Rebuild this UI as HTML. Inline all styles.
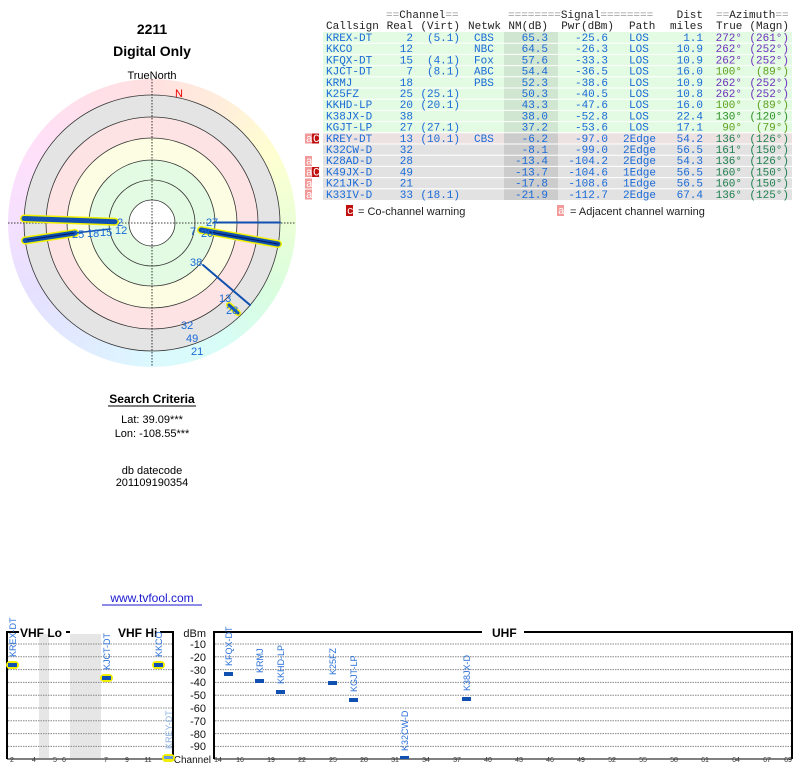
<!DOCTYPE html>
<html><head><meta charset="utf-8"><style>
html,body{margin:0;padding:0;background:#fff;width:800px;height:768px;overflow:hidden;position:relative}
#wheel{position:absolute;left:8px;top:79px;width:288px;height:288px;border-radius:50%;
background:conic-gradient(hsl(0,100%,94%),hsl(30,100%,93%),hsl(60,100%,91%),hsl(90,100%,92%),hsl(130,90%,92%),hsl(170,90%,92%),hsl(190,100%,93%),hsl(220,100%,94%),hsl(250,100%,94%),hsl(280,100%,94%),hsl(310,100%,94%),hsl(340,100%,94%),hsl(360,100%,94%))}
svg{position:absolute;left:0;top:0}
.m{font-family:"Liberation Mono","DejaVu Sans Mono",monospace;font-size:11px}
.s{font-family:"Liberation Sans","DejaVu Sans",sans-serif}
</style></head><body>
<div id="wheel"></div>
<svg width="800" height="768" viewBox="0 0 800 768">
<g class="s" text-anchor="middle" fill="#000">
<text x="152" y="34" font-size="14" font-weight="bold">2211</text>
<text x="152" y="56" font-size="14" font-weight="bold">Digital Only</text>
<text x="152" y="79" font-size="11">TrueNorth</text>
<text x="152" y="403" font-size="12" font-weight="bold">Search Criteria</text>
<text x="152" y="423" font-size="11">Lat: 39.09***</text>
<text x="152" y="437" font-size="11">Lon: -108.55***</text>
<text x="152" y="474" font-size="11">db datecode</text>
<text x="152" y="486" font-size="11">201109190354</text>
<text x="152" y="602" font-size="12" fill="#1a1ad0">www.tvfool.com</text>
</g>
<line x1="108" y1="406" x2="196" y2="406" stroke="#000" stroke-width="1"/>
<line x1="102" y1="605" x2="202" y2="605" stroke="#1a1ad0" stroke-width="1"/>
<circle cx="152" cy="223" r="128" fill="#e4e4e4"/>
<circle cx="152" cy="223" r="106" fill="#fde3e3"/>
<circle cx="152" cy="223" r="85" fill="#fcfde2"/>
<circle cx="152" cy="223" r="63" fill="#e2fbe2"/>
<circle cx="152" cy="223" r="23" fill="#fff"/>
<g fill="none" stroke="#333" stroke-width="0.8">
<circle cx="152" cy="223" r="128"/><circle cx="152" cy="223" r="106"/><circle cx="152" cy="223" r="85"/><circle cx="152" cy="223" r="63"/><circle cx="152" cy="223" r="43"/><circle cx="152" cy="223" r="23"/>
</g>
<g stroke="#000" stroke-width="0.8" stroke-dasharray="1.5,1.5">
<line x1="152" y1="79" x2="152" y2="367"/><line x1="8" y1="223" x2="296" y2="223"/>
</g>
<text x="179" y="97" class="s" font-size="11" fill="#e00" text-anchor="middle">N</text>
<g stroke-linecap="round">
<line x1="24" y1="218.5" x2="115" y2="221.7" stroke="#f0f000" stroke-width="8"/>
<line x1="24" y1="218.5" x2="115" y2="221.7" stroke="#1050b0" stroke-width="5"/>
<line x1="25" y1="240.5" x2="75" y2="233" stroke="#f0f000" stroke-width="8"/>
<line x1="25" y1="240.5" x2="75" y2="233" stroke="#1050b0" stroke-width="5"/>
<line x1="27" y1="240" x2="75" y2="233" stroke="#001a60" stroke-width="1"/>
<line x1="75" y1="233" x2="110" y2="229" stroke="#1050b0" stroke-width="1.5"/>
<line x1="201" y1="230" x2="278" y2="244" stroke="#f0f000" stroke-width="8"/>
<line x1="201" y1="230" x2="278" y2="244" stroke="#1050b0" stroke-width="5"/>
<line x1="210" y1="232" x2="278" y2="244" stroke="#001a60" stroke-width="1"/>
<line x1="214" y1="222.5" x2="280" y2="222.5" stroke="#1050b0" stroke-width="2"/>
<line x1="203" y1="265" x2="250" y2="305" stroke="#1050b0" stroke-width="2"/>
<line x1="229" y1="305" x2="238" y2="313" stroke="#f0f000" stroke-width="6"/>
<line x1="229" y1="305" x2="238" y2="313" stroke="#1050b0" stroke-width="3"/>
</g>
<g class="s" font-size="11" fill="#1a6ad8">
<text x="117" y="226">2</text><text x="115" y="234">12</text>
<text x="72" y="238">25</text><text x="87" y="237">18</text><text x="100" y="236">15</text>
<text x="206" y="226">27</text><text x="190" y="235">7</text><text x="201" y="237">20</text>
<text x="190" y="266">38</text>
<text x="219" y="302">13</text><text x="226" y="314">28</text>
<text x="181" y="329">32</text><text x="186" y="342">49</text><text x="191" y="355">21</text>
</g>
<rect x="323" y="32" width="469" height="100.8" fill="#e2fbe2"/>
<rect x="323" y="132.8" width="469" height="11.2" fill="#ede2e2"/>
<rect x="323" y="144" width="469" height="56" fill="#e2e2e2"/>
<rect x="504" y="32" width="54" height="100.8" fill="#d0e6d0"/>
<rect x="504" y="132.8" width="54" height="67.2" fill="#cccccc"/>
<g stroke="#fff" stroke-width="1">
<line x1="323" x2="792" y1="43.2" y2="43.2"/><line x1="323" x2="792" y1="54.4" y2="54.4"/><line x1="323" x2="792" y1="65.6" y2="65.6"/><line x1="323" x2="792" y1="76.8" y2="76.8"/><line x1="323" x2="792" y1="88" y2="88"/><line x1="323" x2="792" y1="99.2" y2="99.2"/><line x1="323" x2="792" y1="110.4" y2="110.4"/><line x1="323" x2="792" y1="121.6" y2="121.6"/><line x1="323" x2="792" y1="132.8" y2="132.8"/><line x1="323" x2="792" y1="144" y2="144"/><line x1="323" x2="792" y1="155.2" y2="155.2"/><line x1="323" x2="792" y1="166.4" y2="166.4"/><line x1="323" x2="792" y1="177.6" y2="177.6"/><line x1="323" x2="792" y1="188.8" y2="188.8"/>
</g>
<g class="m" fill="#222">
<text x="386" y="18" fill="#999">==<tspan fill="#222">Channel</tspan>==</text>
<text x="508" y="18" fill="#999">========<tspan fill="#222">Signal</tspan>========</text>
<text x="703" y="18" text-anchor="end">Dist</text>
<text x="716" y="18" fill="#999">==<tspan fill="#222">Azimuth</tspan>==</text>
<text x="326" y="29">Callsign</text>
<text x="413" y="29" text-anchor="end">Real</text>
<text x="460" y="29" text-anchor="end">(Virt)</text>
<text x="468" y="29">Netwk</text>
<text x="548" y="29" text-anchor="end">NM(dB)</text>
<text x="614" y="29" text-anchor="end">Pwr(dBm)</text>
<text x="629" y="29">Path</text>
<text x="703" y="29" text-anchor="end">miles</text>
<text x="716" y="29">True</text>
<text x="789" y="29" text-anchor="end">(Magn)</text>
</g>
<g class="m" fill="#1a6ad8">
<text x="326"><tspan x="326" y="41">KREX-DT</tspan><tspan x="326" y="52.2">KKCO</tspan><tspan x="326" y="63.4">KFQX-DT</tspan><tspan x="326" y="74.6">KJCT-DT</tspan><tspan x="326" y="85.8">KRMJ</tspan><tspan x="326" y="97">K25FZ</tspan><tspan x="326" y="108.2">KKHD-LP</tspan><tspan x="326" y="119.4">K38JX-D</tspan><tspan x="326" y="130.6">KGJT-LP</tspan><tspan x="326" y="141.8">KREY-DT</tspan><tspan x="326" y="153">K32CW-D</tspan><tspan x="326" y="164.2">K28AD-D</tspan><tspan x="326" y="175.4">K49JX-D</tspan><tspan x="326" y="186.6">K21JK-D</tspan><tspan x="326" y="197.8">K33IV-D</tspan></text>
<text text-anchor="end"><tspan x="413" y="41">2</tspan><tspan x="413" y="52.2">12</tspan><tspan x="413" y="63.4">15</tspan><tspan x="413" y="74.6">7</tspan><tspan x="413" y="85.8">18</tspan><tspan x="413" y="97">25</tspan><tspan x="413" y="108.2">20</tspan><tspan x="413" y="119.4">38</tspan><tspan x="413" y="130.6">27</tspan><tspan x="413" y="141.8">13</tspan><tspan x="413" y="153">32</tspan><tspan x="413" y="164.2">28</tspan><tspan x="413" y="175.4">49</tspan><tspan x="413" y="186.6">21</tspan><tspan x="413" y="197.8">33</tspan></text>
<text text-anchor="end"><tspan x="460" y="41">(5.1)</tspan><tspan x="460" y="63.4">(4.1)</tspan><tspan x="460" y="74.6">(8.1)</tspan><tspan x="460" y="97">(25.1)</tspan><tspan x="460" y="108.2">(20.1)</tspan><tspan x="460" y="130.6">(27.1)</tspan><tspan x="460" y="141.8">(10.1)</tspan><tspan x="460" y="197.8">(18.1)</tspan></text>
<text><tspan x="474" y="41">CBS</tspan><tspan x="474" y="52.2">NBC</tspan><tspan x="474" y="63.4">Fox</tspan><tspan x="474" y="74.6">ABC</tspan><tspan x="474" y="85.8">PBS</tspan><tspan x="474" y="141.8">CBS</tspan></text>
<text text-anchor="end"><tspan x="548" y="41">65.3</tspan><tspan x="548" y="52.2">64.5</tspan><tspan x="548" y="63.4">57.6</tspan><tspan x="548" y="74.6">54.4</tspan><tspan x="548" y="85.8">52.3</tspan><tspan x="548" y="97">50.3</tspan><tspan x="548" y="108.2">43.3</tspan><tspan x="548" y="119.4">38.0</tspan><tspan x="548" y="130.6">37.2</tspan><tspan x="548" y="141.8">-6.2</tspan><tspan x="548" y="153">-8.1</tspan><tspan x="548" y="164.2">-13.4</tspan><tspan x="548" y="175.4">-13.7</tspan><tspan x="548" y="186.6">-17.8</tspan><tspan x="548" y="197.8">-21.9</tspan></text>
<text text-anchor="end"><tspan x="608" y="41">-25.6</tspan><tspan x="608" y="52.2">-26.3</tspan><tspan x="608" y="63.4">-33.3</tspan><tspan x="608" y="74.6">-36.5</tspan><tspan x="608" y="85.8">-38.6</tspan><tspan x="608" y="97">-40.5</tspan><tspan x="608" y="108.2">-47.6</tspan><tspan x="608" y="119.4">-52.8</tspan><tspan x="608" y="130.6">-53.6</tspan><tspan x="608" y="141.8">-97.0</tspan><tspan x="608" y="153">-99.0</tspan><tspan x="608" y="164.2">-104.2</tspan><tspan x="608" y="175.4">-104.6</tspan><tspan x="608" y="186.6">-108.6</tspan><tspan x="608" y="197.8">-112.7</tspan></text>
<text><tspan x="629" y="41">LOS</tspan><tspan x="629" y="52.2">LOS</tspan><tspan x="629" y="63.4">LOS</tspan><tspan x="629" y="74.6">LOS</tspan><tspan x="629" y="85.8">LOS</tspan><tspan x="629" y="97">LOS</tspan><tspan x="629" y="108.2">LOS</tspan><tspan x="629" y="119.4">LOS</tspan><tspan x="629" y="130.6">LOS</tspan><tspan x="623" y="141.8">2Edge</tspan><tspan x="623" y="153">2Edge</tspan><tspan x="623" y="164.2">2Edge</tspan><tspan x="623" y="175.4">1Edge</tspan><tspan x="623" y="186.6">1Edge</tspan><tspan x="623" y="197.8">2Edge</tspan></text>
<text text-anchor="end"><tspan x="703" y="41">1.1</tspan><tspan x="703" y="52.2">10.9</tspan><tspan x="703" y="63.4">10.9</tspan><tspan x="703" y="74.6">16.0</tspan><tspan x="703" y="85.8">10.9</tspan><tspan x="703" y="97">10.8</tspan><tspan x="703" y="108.2">16.0</tspan><tspan x="703" y="119.4">22.4</tspan><tspan x="703" y="130.6">17.1</tspan><tspan x="703" y="141.8">54.2</tspan><tspan x="703" y="153">56.5</tspan><tspan x="703" y="164.2">54.3</tspan><tspan x="703" y="175.4">56.5</tspan><tspan x="703" y="186.6">56.5</tspan><tspan x="703" y="197.8">67.4</tspan></text>
</g>
<g class="m" text-anchor="end">
<text fill="#7030c0"><tspan x="742" y="41">272°</tspan><tspan x="742" y="52.2">262°</tspan><tspan x="742" y="63.4">262°</tspan><tspan x="742" y="85.8">262°</tspan><tspan x="742" y="97">262°</tspan></text>
<text fill="#7030c0"><tspan x="789" y="41">(261°)</tspan><tspan x="789" y="52.2">(252°)</tspan><tspan x="789" y="63.4">(252°)</tspan><tspan x="789" y="85.8">(252°)</tspan><tspan x="789" y="97">(252°)</tspan></text>
<text fill="#60a020"><tspan x="742" y="74.6">100°</tspan><tspan x="742" y="108.2">100°</tspan><tspan x="742" y="130.6">90°</tspan><tspan x="789" y="74.6">(89°)</tspan><tspan x="789" y="108.2">(89°)</tspan><tspan x="789" y="130.6">(79°)</tspan></text>
<text fill="#30902a"><tspan x="742" y="119.4">130°</tspan><tspan x="789" y="119.4">(120°)</tspan></text>
<text fill="#208050"><tspan x="742" y="141.8">136°</tspan><tspan x="742" y="153">161°</tspan><tspan x="742" y="164.2">136°</tspan><tspan x="742" y="175.4">160°</tspan><tspan x="742" y="186.6">160°</tspan><tspan x="742" y="197.8">136°</tspan></text>
<text fill="#208050"><tspan x="789" y="141.8">(126°)</tspan><tspan x="789" y="153">(150°)</tspan><tspan x="789" y="164.2">(126°)</tspan><tspan x="789" y="175.4">(150°)</tspan><tspan x="789" y="186.6">(150°)</tspan><tspan x="789" y="197.8">(125°)</tspan></text>
</g>
<g class="m" font-size="10" fill="#fff">
<rect x="305" y="133.5" width="7" height="10" fill="#f29a9a"/><rect x="312" y="133.5" width="7" height="10" fill="#c01010"/>
<text x="306" y="142">a</text><text x="313" y="142">C</text>
<rect x="305" y="156" width="7" height="10" fill="#f29a9a"/><text x="306" y="164.5">a</text>
<rect x="305" y="167" width="7" height="10" fill="#f29a9a"/><rect x="312" y="167" width="7" height="10" fill="#c01010"/>
<text x="306" y="175.5">a</text><text x="313" y="175.5">C</text>
<rect x="305" y="178.5" width="7" height="10" fill="#f29a9a"/><text x="306" y="187">a</text>
<rect x="305" y="189.5" width="7" height="10" fill="#f29a9a"/><text x="306" y="198">a</text>
<rect x="346" y="205" width="7" height="11" fill="#c01010"/><text x="347" y="214">c</text>
<rect x="557" y="205" width="7" height="11" fill="#f29a9a"/><text x="558" y="214">a</text>
</g>
<g class="s" font-size="11" fill="#222">
<text x="358" y="215">= Co-channel warning</text>
<text x="570" y="215">= Adjacent channel warning</text>
</g>
<rect x="39" y="634" width="10" height="124" fill="#e6e6e6"/>
<rect x="70" y="634" width="31" height="124" fill="#e6e6e6"/>
<g stroke="#888" stroke-width="1" stroke-dasharray="1.5,1">
<path d="M8 644H172M8 656.8H172M8 669.6H172M8 682.4H172M8 695.2H172M8 708H172M8 720.8H172M8 733.6H172M8 746.4H172"/>
<path d="M215 644H791M215 656.8H791M215 669.6H791M215 682.4H791M215 695.2H791M215 708H791M215 720.8H791M215 733.6H791M215 746.4H791"/>
</g>
<g fill="none" stroke="#000" stroke-width="2">
<path d="M19 632H7V759M66 632H70M160 632H173V759"/>
<path d="M482 632H214V759M524 632H792V759"/>
</g>
<path d="M7 759H173M214 759H792" stroke="#000" stroke-width="1"/>
<g class="s" font-size="12" font-weight="bold" fill="#000">
<text x="20" y="637">VHF Lo</text><text x="118" y="637">VHF Hi</text><text x="492" y="637">UHF</text>
</g>
<rect x="70" y="630" width="48" height="4" fill="#fff"/>
<g class="s" font-size="11" fill="#111" text-anchor="end">
<text x="206" y="637">dBm</text><text x="206" y="648">-10</text><text x="206" y="661">-20</text><text x="206" y="674">-30</text><text x="206" y="686">-40</text><text x="206" y="699">-50</text><text x="206" y="712">-60</text><text x="206" y="725">-70</text><text x="206" y="738">-80</text><text x="206" y="750">-90</text>
</g>
<text x="211" y="763" class="s" font-size="10" fill="#111" text-anchor="end">Channel</text>
<g class="s" font-size="7" fill="#333" text-anchor="middle">
<text x="12" y="762">2</text><text x="34" y="762">4</text><text x="55" y="762">5</text><text x="64" y="762">6</text><text x="106" y="762">7</text><text x="127" y="762">9</text><text x="148" y="762">11</text><text x="168" y="762">13</text>
<text x="218" y="762">14</text><text x="240" y="762">16</text><text x="271" y="762">19</text><text x="302" y="762">22</text><text x="333" y="762">25</text><text x="364" y="762">28</text><text x="395" y="762">31</text><text x="426" y="762">34</text><text x="457" y="762">37</text><text x="488" y="762">40</text><text x="519" y="762">43</text><text x="550" y="762">46</text><text x="581" y="762">49</text><text x="612" y="762">52</text><text x="643" y="762">55</text><text x="674" y="762">58</text><text x="705" y="762">61</text><text x="736" y="762">64</text><text x="767" y="762">67</text><text x="788" y="762">69</text>
</g>
<g>
<rect x="6" y="661" width="13" height="8" rx="4" fill="#f0f000"/><rect x="8" y="663" width="9" height="4" fill="#1050b0"/>
<rect x="100" y="674" width="13" height="8" rx="4" fill="#f0f000"/><rect x="102" y="676" width="9" height="4" fill="#1050b0"/>
<rect x="152" y="661" width="13" height="8" rx="4" fill="#f0f000"/><rect x="154" y="663" width="9" height="4" fill="#1050b0"/>
<rect x="162" y="754" width="13" height="8" rx="4" fill="#f0f000"/><rect x="164" y="756" width="9" height="3" fill="#6a9ad8"/>
<rect x="224" y="672" width="9" height="4" fill="#1050b0"/>
<rect x="255" y="679" width="9" height="4" fill="#1050b0"/>
<rect x="276" y="690" width="9" height="4" fill="#1050b0"/>
<rect x="328" y="681" width="9" height="4" fill="#1050b0"/>
<rect x="349" y="698" width="9" height="4" fill="#1050b0"/>
<rect x="400" y="756" width="9" height="3" fill="#1050b0"/>
<rect x="462" y="697" width="9" height="4" fill="#1050b0"/>
</g>
<g class="s" font-size="9" fill="#2a70d8">
<text transform="translate(16,657) rotate(-90)">KREX-DT</text>
<text transform="translate(110,670) rotate(-90)">KJCT-DT</text>
<text transform="translate(162,657) rotate(-90)">KKCO</text>
<text transform="translate(172,749) rotate(-90)" fill="#8ab0e0">KREY-DT</text>
<text transform="translate(232,666) rotate(-90)">KFQX-DT</text>
<text transform="translate(263,673) rotate(-90)">KRMJ</text>
<text transform="translate(284,684) rotate(-90)">KKHD-LP</text>
<text transform="translate(336,675) rotate(-90)">K25FZ</text>
<text transform="translate(357,692) rotate(-90)">KGJT-LP</text>
<text transform="translate(408,751) rotate(-90)">K32CW-D</text>
<text transform="translate(470,691) rotate(-90)">K38JX-D</text>
</g>
</svg>
</body></html>
